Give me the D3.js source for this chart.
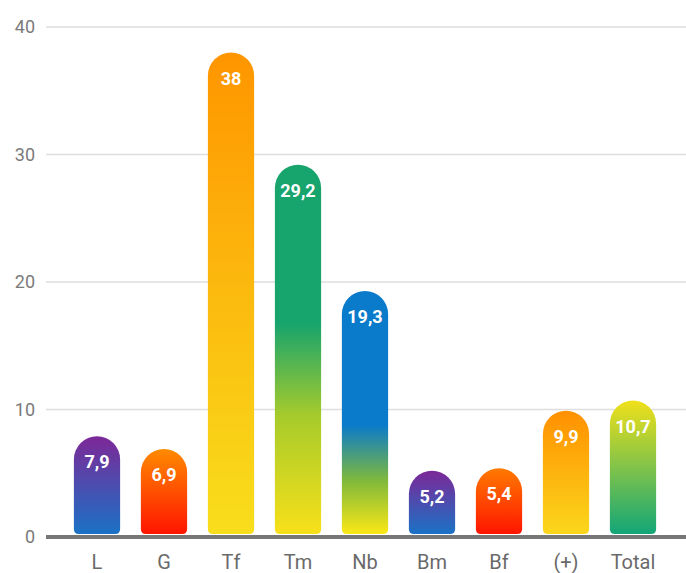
<!DOCTYPE html>
<html lang="en">
<head>
<meta charset="utf-8">
<style>
  body { margin: 0; background: #fff; }
  svg { display: block; font-family: Roboto, "Noto Sans", sans-serif; }
  .grid line { stroke: #dedede; stroke-width: 1.5px; }
  .ytick { fill: #7a7a7a; font-size: 18px; }
  .xlab { fill: #6a6a6a; font-size: 20px; }
  .val { fill: #fff; font-size: 18px; font-weight: bold; }
</style>
</head>
<body>
<svg width="686" height="573"></svg>
<script src="https://cdn.jsdelivr.net/npm/d3@7/dist/d3.min.js"></script>
<script>
// data
var categories = ["L", "G", "Tf", "Tm", "Nb", "Bm", "Bf", "(+)", "Total"];
var values = [7.9, 6.9, 38, 29.2, 19.3, 5.2, 5.4, 9.9, 10.7];
var valueLabels = ["7,9", "6,9", "38", "29,2", "19,3", "5,2", "5,4", "9,9", "10,7"];
var yTicks = [0, 10, 20, 30, 40];

// gradient per bar: [offset, colour] top -> bottom
var gradients = [
  [[0, "#7d2897"], [1, "#1a72c6"]],
  [[0, "#ff8a00"], [1, "#ff1500"]],
  [[0, "#ff9500"], [1, "#f8de1c"]],
  [[0, "#17a46d"], [0.43, "#17a46d"], [0.68, "#a6cb2b"], [1, "#f8e01a"]],
  [[0, "#0a7acb"], [0.55, "#0a7acb"], [0.78, "#7fb93c"], [1, "#fbe816"]],
  [[0, "#7d2897"], [1, "#1a72c6"]],
  [[0, "#ff7a00"], [1, "#ff1500"]],
  [[0, "#ff9000"], [1, "#fbd71c"]],
  [[0, "#f0e01a"], [1, "#12a678"]]
];

var svg = d3.select("svg");

var x = d3.scaleBand()
  .domain(categories)
  .range([63.5, 666.5])
  .paddingInner(0.31)
  .paddingOuter(0.155);

var y = d3.scaleLinear()
  .domain([0, 40])
  .range([537, 27]);

var defs = svg.append("defs");
gradients.forEach(function (g, i) {
  var lg = defs.append("linearGradient")
    .attr("id", "grad" + i)
    .attr("x1", 0).attr("y1", 0).attr("x2", 0).attr("y2", 1);
  g.forEach(function (s) {
    lg.append("stop").attr("offset", s[0]).attr("stop-color", s[1]);
  });
});

// gridlines
svg.append("g").attr("class", "grid")
  .selectAll("line")
  .data(yTicks.filter(function (d) { return d > 0; }))
  .enter().append("line")
  .attr("x1", 46).attr("x2", 686)
  .attr("y1", function (d) { return y(d); })
  .attr("y2", function (d) { return y(d); });

// y labels
svg.append("g")
  .selectAll("text")
  .data(yTicks)
  .enter().append("text")
  .attr("class", "ytick")
  .attr("x", 35)
  .attr("y", function (d) { return y(d); })
  .attr("dy", "0.35em")
  .attr("text-anchor", "end")
  .text(function (d) { return d; });

// bars: rounded pill top, small radius at bottom
function barPath(d, i) {
  var w = x.bandwidth(), x0 = x(categories[i]), r = w / 2, rb = 5;
  var top = y(d), bot = y(0) - 3;
  return "M" + x0 + "," + (top + r) +
    "A" + r + "," + r + " 0 0 1 " + (x0 + w) + "," + (top + r) +
    "L" + (x0 + w) + "," + (bot - rb) +
    "Q" + (x0 + w) + "," + bot + " " + (x0 + w - rb) + "," + bot +
    "L" + (x0 + rb) + "," + bot +
    "Q" + x0 + "," + bot + " " + x0 + "," + (bot - rb) + "Z";
}

svg.append("g")
  .selectAll("path")
  .data(values)
  .enter().append("path")
  .attr("d", barPath)
  .attr("fill", function (d, i) { return "url(#grad" + i + ")"; });

svg.append("g")
  .selectAll("text")
  .data(values)
  .enter().append("text")
  .attr("class", "val")
  .attr("x", function (d, i) { return x(categories[i]) + x.bandwidth() / 2; })
  .attr("y", function (d) { return y(d) + 32; })
  .attr("text-anchor", "middle")
  .text(function (d, i) { return valueLabels[i]; });

// baseline
svg.append("line")
  .attr("x1", 46).attr("x2", 686)
  .attr("y1", y(0)).attr("y2", y(0))
  .attr("stroke", "#777")
  .attr("stroke-width", 4);

// x labels
svg.append("g")
  .selectAll("text")
  .data(categories)
  .enter().append("text")
  .attr("class", "xlab")
  .attr("x", function (d) { return x(d) + x.bandwidth() / 2; })
  .attr("y", 569)
  .attr("text-anchor", "middle")
  .text(function (d) { return d; });
</script>
</body>
</html>
